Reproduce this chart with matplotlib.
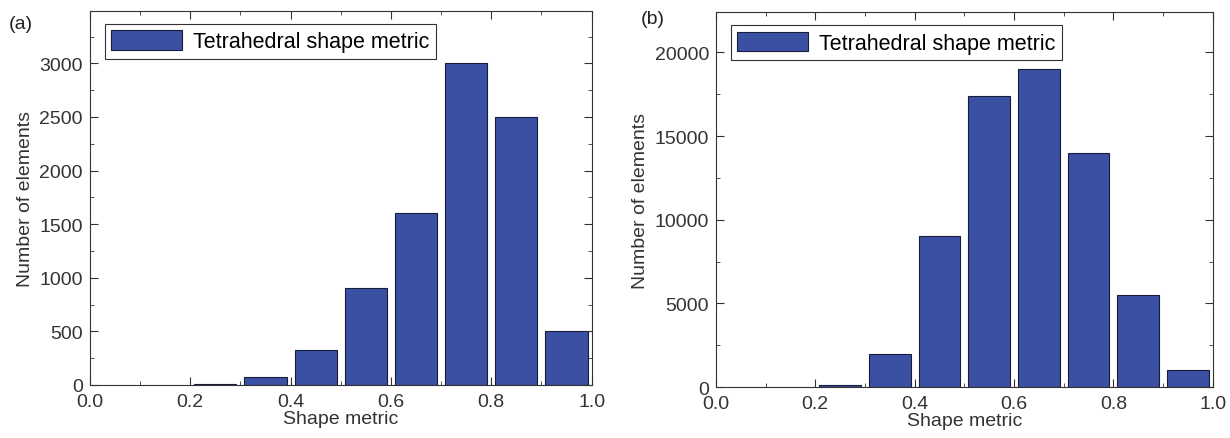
import matplotlib
matplotlib.use("Agg")
import matplotlib.pyplot as plt
from matplotlib.ticker import MultipleLocator
import numpy as np

plt.rcParams['font.family'] = ['Liberation Sans', 'DejaVu Sans']

# bin centres of the shape metric histogram
bins = [0.25, 0.35, 0.45, 0.55, 0.65, 0.75, 0.85, 0.95]
counts_a = [10, 75, 330, 900, 1600, 3000, 2500, 500]
counts_b = [150, 2000, 9000, 17400, 19000, 14000, 5500, 1000]

barColor = '#3a51a3'
textColor = '#333333'
legendLabel = 'Tetrahedral shape metric'

fig = plt.figure(figsize=(12.3, 4.39), dpi=100)
axA = fig.add_axes([0.073, 0.121, 0.408, 0.852])
axB = fig.add_axes([0.582, 0.116, 0.404, 0.854])


def drawPanel(ax, counts, ymax, major, minor, tag, tagx, tagy):
    ax.bar(bins, counts, width=0.084, color=barColor, edgecolor='#1a1a3a',
           linewidth=0.8, label=legendLabel)
    ax.set_xlim(0, 1.0)
    ax.set_ylim(0, ymax)
    ax.xaxis.set_major_locator(MultipleLocator(0.2))
    ax.xaxis.set_minor_locator(MultipleLocator(0.1))
    ax.yaxis.set_major_locator(MultipleLocator(major))
    ax.yaxis.set_minor_locator(MultipleLocator(minor))
    ax.tick_params(which='both', direction='in', top=True, right=True,
                   labelsize=14, colors=textColor)
    ax.tick_params(which='major', length=6)
    ax.tick_params(which='minor', length=3)
    ax.tick_params(axis='x', which='major', pad=6)
    ax.tick_params(axis='y', which='major', pad=5)
    ax.xaxis.set_major_formatter(plt.FuncFormatter(lambda v, p: '%.1f' % v))
    for s in ax.spines.values():
        s.set_color(textColor)
    ax.set_xlabel('Shape metric', fontsize=14, color=textColor, labelpad=0)
    ax.set_ylabel('Number of elements', fontsize=14, color=textColor, labelpad=4)
    leg = ax.legend(loc='upper left', bbox_to_anchor=(0.03, 0.965), fontsize=15.5,
                    fancybox=False, framealpha=1, edgecolor=textColor,
                    handlelength=3.3, handleheight=1.0, borderpad=0.3,
                    handletextpad=0.5, borderaxespad=0)
    leg.get_frame().set_linewidth(0.8)
    fig.text(tagx, tagy, tag, fontsize=14, color='#222222')


drawPanel(axA, counts_a, 3490, 500, 250, '(a)', 0.007, 0.935)
drawPanel(axB, counts_b, 22400, 5000, 2500, '(b)', 0.521, 0.945)

fig.savefig('out.png', dpi=100)
